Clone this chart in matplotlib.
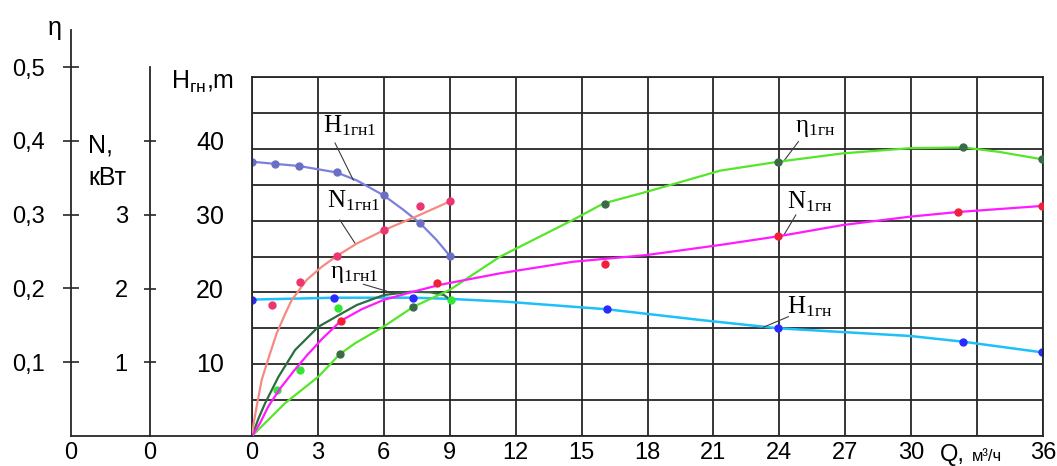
import matplotlib.pyplot as plt
from matplotlib.lines import Line2D

plt.rcParams['font.family'] = ['Liberation Sans', 'DejaVu Sans']

FIG_W, FIG_H = 1057, 466

# flow rate axis
q_ticks = list(range(0, 37, 3))
q_tick_labels = [str(q) for q in q_ticks]
q_tick_labels[11] = ''  # room for the "Q, м³/ч" caption

# head of the first pump, H1гн1 (m)
q_h1_line = [0, 1.06, 2.15, 3.86, 4.77, 6.0, 6.89, 7.66, 8.4, 9.0]
h_h1_line = [38.2, 37.9, 37.6, 36.7, 35.6, 33.5, 31.5, 29.6, 27.3, 25.1]
q_h1_pts = [0, 1.06, 2.15, 3.86, 6.0, 7.66, 9.0]
h_h1_pts = [38.2, 37.9, 37.6, 36.7, 33.5, 29.6, 25.1]

# power of the first pump, N1гн1 (kW)
q_n1_line = [0, 0.08, 0.2, 0.44, 0.8, 1.12, 1.5, 1.8, 2.5, 3.2, 3.86, 4.77, 6.0, 7.65, 9.0]
n_n1_line = [0, 0.18, 0.38, 0.76, 1.1, 1.39, 1.65, 1.84, 2.12, 2.3, 2.44, 2.61, 2.79, 3.0, 3.18]
q_n1_pts = [0.9, 2.18, 3.86, 6.0, 7.66, 9.0]
n_n1_pts = [1.78, 2.09, 2.44, 2.79, 3.12, 3.18]

# efficiency of the first pump, η1гн1
q_e1_line = [0, 0.3, 0.59, 1.2, 1.96, 3.02, 4.08, 4.77, 6.0, 7.22, 8.13, 8.74, 9.04]
e_e1_line = [0, 0.024, 0.044, 0.080, 0.1165, 0.148, 0.166, 0.1775, 0.191, 0.1955, 0.1947, 0.191, 0.184]
q_e1_pts = [1.12, 2.18, 3.9, 9.04]
e_e1_pts = [0.0623, 0.0894, 0.173, 0.184]

# head of the pump, H1гн (m)
q_h_line = [0, 3.75, 7.34, 9.0, 11.59, 16.15, 20.4, 23.96, 29.95, 32.38, 35.94]
h_h_line = [19.0, 19.26, 19.26, 19.1, 18.7, 17.65, 16.16, 15.0, 13.93, 13.13, 11.66]
q_h_pts = [0, 3.75, 7.34, 16.15, 23.96, 32.38, 35.94]
h_h_pts = [19.0, 19.26, 19.26, 17.65, 15.0, 13.13, 11.66]

# power of the pump, N1гн (kW)
q_n_line = [0, 0.36, 0.74, 1.27, 1.9, 2.49, 3.2, 4.05, 5.0, 5.98, 7.34, 8.56,
            11.29, 14.62, 17.97, 21.3, 23.96, 26.9, 29.95, 32.12, 35.94]
n_n_line = [0, 0.17, 0.4, 0.64, 0.88, 1.09, 1.32, 1.563, 1.72, 1.844, 1.957, 2.05,
            2.206, 2.363, 2.454, 2.59, 2.708, 2.861, 2.974, 3.037, 3.119]
q_n_pts = [4.05, 8.44, 16.07, 23.96, 32.12, 35.97]
n_n_pts = [1.563, 2.08, 2.328, 2.708, 3.037, 3.119]

# efficiency of the pump, η1гн
q_e_line = [0, 1.5, 3.02, 4.0, 4.69, 5.98, 7.34, 9.0, 11.29, 14.62, 15.99, 17.97,
            21.3, 23.96, 26.9, 29.95, 32.38, 34.0, 35.94]
e_e_line = [0, 0.0443, 0.0804, 0.111, 0.1256, 0.148, 0.175, 0.198, 0.243, 0.293, 0.315,
            0.331, 0.3595, 0.3717, 0.383, 0.39, 0.391, 0.385, 0.375]
q_e_pts = [4.0, 7.34, 16.06, 23.96, 32.38, 35.94]
e_e_pts = [0.111, 0.175, 0.314, 0.3717, 0.391, 0.375]

eta_ticks = [0.1, 0.2, 0.3, 0.4, 0.5]
eta_labels = ['0,1', '0,2', '0,3', '0,4', '0,5']
n_ticks = [1, 2, 3, 4]
n_labels = ['1', '2', '3', '']
h_ticks = [10, 20, 30, 40]

GRID = '#262626'
LEADER = '#3c3c3c'


def fx(px):
    return px / FIG_W


def fy(py):
    return 1 - py / FIG_H


fig = plt.figure(figsize=(FIG_W / 100, FIG_H / 100), dpi=100)

# main grid, heads in metres
ax = fig.add_axes([fx(252), fy(436), (1043 - 252) / FIG_W, (436 - 77) / FIG_H])
ax.set_xlim(0, 36)
ax.set_ylim(0, 50)
ax.set_xticks(q_ticks)
ax.set_xticklabels(q_tick_labels)
ax.set_yticks(range(0, 51, 5))
ax.set_yticklabels([])
ax.tick_params(length=0, labelsize=17, pad=4)
ax.grid(True, color=GRID, lw=1.3)
for s in ax.spines.values():
    s.set_color(GRID)
    s.set_linewidth(1.3)

# twin scales for efficiency and power
ax_e = ax.twinx()
ax_e.set_ylim(0, 359 / 738)
ax_e.axis('off')
ax_n = ax.twinx()
ax_n.set_ylim(0, 359 / 73.75)
ax_n.axis('off')

ms = 5
ax.plot(q_h1_line, h_h1_line, color='#7b80dc', lw=1.6)
ax.plot(q_h1_pts, h_h1_pts, 'o', color='#6a6fc4', ms=ms)
ax_n.plot(q_n1_line, n_n1_line, color='#f68a82', lw=1.6)
ax_n.plot(q_n1_pts, n_n1_pts, 'o', color='#ec3670', ms=ms)
ax_e.plot(q_e1_line, e_e1_line, color='#2f6b40', lw=1.6)
ax_e.plot(q_e1_pts, e_e1_pts, 'o', color='#33e633', ms=ms)
ax_e.plot(q_e_line, e_e_line, color='#55e62a', lw=1.6)
ax_e.plot(q_e_pts, e_e_pts, 'o', color='#3a6b48', ms=ms)
ax_n.plot(q_n_line, n_n_line, color='#ff1aff', lw=1.6)
ax_n.plot(q_n_pts, n_n_pts, 'o', color='#f0203a', ms=ms)
ax.plot(q_h_line, h_h_line, color='#1ec0f8', lw=1.8)
ax.plot(q_h_pts, h_h_pts, 'o', color='#2a2aff', ms=ms)

# curve captions with leader lines
serif = ['Liberation Serif', 'DejaVu Serif']
captions = [
    (3.23, 42.3, r'$\mathregular{H_{1гн1}}$', (3.78, 4.61), (40.8, 35.65)),
    (3.41, 31.8, r'$\mathregular{N_{1гн1}}$', (4.0, 4.69), (30.08, 26.84)),
    (3.55, 22.0, r'$\mathregular{\eta_{1гн1}}$', (5.07, 6.43), (21.13, 19.9)),
    (24.72, 42.3, r'$\mathregular{\eta_{1гн}}$', (24.87, 24.18), (41.0, 38.2)),
    (24.35, 31.75, r'$\mathregular{N_{1гн}}$', (24.75, 24.21), (30.78, 28.0)),
    (24.35, 17.13, r'$\mathregular{H_{1гн}}$', (24.41, 23.27), (16.62, 15.14)),
]
for x, y, txt, lx, ly in captions:
    ax.text(x, y, txt, family=serif, size=18, va='baseline', ha='left')
    ax.plot(lx, ly, color=LEADER, lw=0.8)

# efficiency scale on the far left
ax_eta = fig.add_axes([fx(71), fy(436), 0.0001, (436 - 30) / FIG_H])
ax_eta.patch.set_visible(False)
ax_eta.set_ylim(0, 406 / 738)
ax_eta.set_xlim(0, 1)
for side in ['right', 'top', 'bottom']:
    ax_eta.spines[side].set_visible(False)
ax_eta.spines['left'].set_color(GRID)
ax_eta.spines['left'].set_linewidth(1.3)
ax_eta.set_yticks(eta_ticks)
ax_eta.set_yticklabels(eta_labels)
ax_eta.tick_params(axis='y', direction='inout', length=11, width=1.2, color=GRID,
                   pad=13, labelsize=17)
ax_eta.set_xticks([0])
ax_eta.set_xticklabels(['0'])
ax_eta.tick_params(axis='x', length=0, pad=4, labelsize=17)

# power scale, with the head values written beside it
ax_N = fig.add_axes([fx(150), fy(436), 0.0001, (436 - 67) / FIG_H])
ax_N.patch.set_visible(False)
ax_N.set_ylim(0, 369 / 73.75)
ax_N.set_xlim(0, 1)
for side in ['right', 'top', 'bottom']:
    ax_N.spines[side].set_visible(False)
ax_N.spines['left'].set_color(GRID)
ax_N.spines['left'].set_linewidth(1.3)
ax_N.set_yticks(n_ticks)
ax_N.set_yticklabels(n_labels)
ax_N.tick_params(axis='y', direction='inout', length=8, width=1.2, color=GRID,
                 pad=12, labelsize=17)
ax_N.set_xticks([0])
ax_N.set_xticklabels(['0'])
ax_N.tick_params(axis='x', length=0, pad=4, labelsize=17)

sec = ax_N.secondary_yaxis('right', functions=(lambda n: n * 10, lambda h: h / 10))
sec.set_yticks(h_ticks)
sec.spines['right'].set_visible(False)
sec.tick_params(length=0, pad=33, labelsize=18)

fig.add_artist(Line2D([fx(71), fx(252)], [fy(436), fy(436)], color=GRID, lw=1.3))

# axis captions
fig.text(fx(55), fy(28), 'η', ha='center', va='center', size=18)
fig.text(fx(88), fy(153), 'N,', ha='left', va='baseline', size=18)
fig.text(fx(88), fy(185), 'кВт', ha='left', va='baseline', size=18)
fig.text(fx(171), fy(89), r'$\mathregular{H_{гн}}$,m', ha='left', va='baseline', size=18)
fig.text(fx(940), fy(461), 'Q,', ha='left', va='baseline', size=17)
fig.text(fx(972), fy(461), 'м³/ч', ha='left', va='baseline', size=12)

fig.savefig('out.png', dpi=100)
